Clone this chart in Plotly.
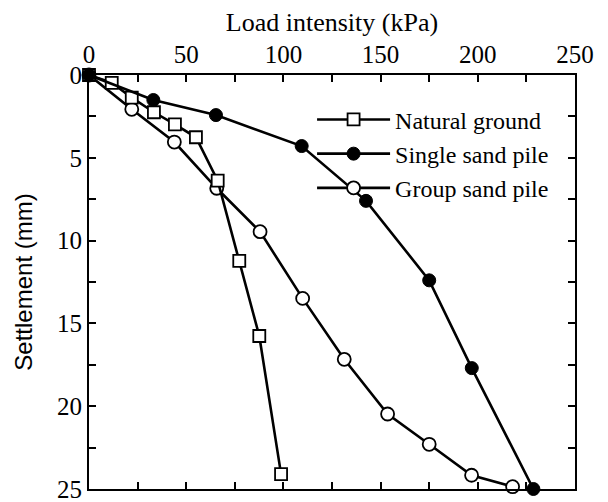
import plotly.graph_objects as go

# Load intensity (kPa) vs settlement (mm)
natural_load = [0, 11.7, 22.0, 33.4, 44.2, 55.0, 66.2, 77.3, 87.6, 98.8]
natural_settle = [0, 0.47, 1.37, 2.25, 2.98, 3.76, 6.38, 11.23, 15.76, 24.1]

single_load = [0, 33.1, 65.3, 109.4, 142.5, 175.0, 196.9, 228.6]
single_settle = [0, 1.51, 2.42, 4.29, 7.6, 12.4, 17.7, 25.0]

group_load = [0, 22.0, 43.9, 65.7, 88.0, 109.9, 131.3, 153.6, 175.0, 196.8, 217.9]
group_settle = [0, 2.07, 4.05, 6.84, 9.46, 13.49, 17.17, 20.47, 22.3, 24.17, 24.86]

x_ticks = [0, 50, 100, 150, 200, 250]
y_ticks = [0, 5, 10, 15, 20, 25]

serif = "Liberation Serif"
fig = go.Figure()

fig.add_trace(go.Scatter(
    x=group_load, y=group_settle, name="Group sand pile", mode="lines+markers",
    line=dict(color="black", width=2.6),
    marker=dict(symbol="circle", size=13, color="white", line=dict(color="black", width=1.8)),
    cliponaxis=False, legendrank=3))
fig.add_trace(go.Scatter(
    x=natural_load, y=natural_settle, name="Natural ground", mode="lines+markers",
    line=dict(color="black", width=2.6),
    marker=dict(symbol="square", size=12, color="white", line=dict(color="black", width=1.8)),
    cliponaxis=False, legendrank=1))
fig.add_trace(go.Scatter(
    x=single_load, y=single_settle, name="Single sand pile", mode="lines+markers",
    line=dict(color="black", width=2.6),
    marker=dict(symbol="circle", size=13, color="black", line=dict(color="black", width=1)),
    cliponaxis=False, legendrank=2))

fig.update_layout(
    width=608, height=502,
    margin=dict(l=89, r=33, t=75, b=13, autoexpand=False),
    paper_bgcolor="white", plot_bgcolor="white",
    font=dict(family=serif, color="black", size=25),
    showlegend=True,
    legend=dict(x=0.459, y=0.946, xanchor="left", yanchor="top",
                bgcolor="rgba(0,0,0,0)", font=dict(family=serif, size=24),
                itemwidth=73, tracegroupgap=0, traceorder="normal"),
    xaxis=dict(
        side="top", range=[0, 250], tickvals=x_ticks, ticks="inside", ticklen=7,
        tickwidth=1.5, tickcolor="black", automargin=False, ticklabeloverflow="allow",
        minor=dict(dtick=25, ticks="inside", ticklen=7, tickwidth=1.5, tickcolor="black"),
        showline=True, linecolor="black", linewidth=2, mirror="ticks",
        showgrid=False, zeroline=False,
        tickfont=dict(family=serif, size=25),
        title=dict(text="Load intensity (kPa)", font=dict(family=serif, size=26), standoff=2),
    ),
    yaxis=dict(
        range=[25, 0], tickvals=y_ticks, ticks="inside", ticklen=7,
        tickwidth=1.5, tickcolor="black", automargin=False, ticklabeloverflow="allow",
        minor=dict(dtick=2.5, ticks="inside", ticklen=7, tickwidth=1.5, tickcolor="black"),
        showline=True, linecolor="black", linewidth=2, mirror="ticks",
        showgrid=False, zeroline=False,
        tickfont=dict(family=serif, size=25),
        title=dict(text="Settlement (mm)", font=dict(family="Liberation Sans", size=24), standoff=18),
    ),
)

fig.write_html("out.html", config={"displayModeBar": False},
               post_script="document.body.style.margin='0';")
